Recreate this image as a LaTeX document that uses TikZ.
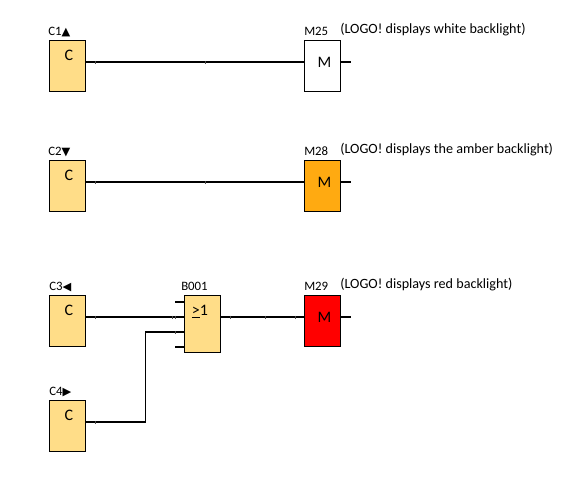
\documentclass[tikz,border=0pt]{standalone}
\usepackage{fontspec}
\setmainfont{Carlito}
\newfontfamily\symfont{DejaVu Sans}
\definecolor{blockfill}{RGB}{255,221,136}
\definecolor{amberfill}{RGB}{255,170,17}
\definecolor{redfill}{RGB}{255,0,0}
\definecolor{shadowgrey}{RGB}{170,170,170}
\tikzset{
  px/.style={x=0.75pt,y=-0.75pt},
  blockbox/.style={draw=black,line width=0.9pt,minimum width=27pt,minimum height=38.25pt,inner sep=0pt,anchor=north west,fill=blockfill,text depth=0pt},
  wire/.style={draw=black,line width=0.9pt},
  blocklabel/.style={anchor=base west,inner sep=0pt,font=\fontsize{9.6pt}{11pt}\selectfont},
  notelabel/.style={anchor=base west,inner sep=0pt,font=\fontsize{10.6pt}{12pt}\selectfont},
  blocktext/.style={anchor=base,inner sep=0pt,font=\fontsize{12pt}{14pt}\selectfont},
  wiretick/.style={draw=black!70,line width=0.4pt}
}
\begin{document}
\begin{tikzpicture}[px]
\useasboundingbox (0,0) rectangle (579,480);
% input blocks
\node[blockbox] (c1) at (49,39.5) {};
\node[blockbox] (c2) at (49,159.5) {};
\node[blockbox] (c3) at (49,294.5) {};
\node[blockbox] (c4) at (49,399.5) {};
\node[blockbox,minimum height=42.75pt] (b1) at (184,294.5) {};
\node[blockbox,fill=white] (m25) at (304,39.5) {};
\node[blockbox,fill=amberfill] (m28) at (304,159.5) {};
\node[blockbox,fill=redfill] (m29) at (304,294.5) {};
% block inscriptions
\node[blocktext] (tc1) at (69,60) {C};
\node[blocktext] (tc2) at (69,180) {C};
\node[blocktext] (tc3) at (69,315) {C};
\node[blocktext] (tc4) at (69,420) {C};
\node[blocktext] (tb1) at (200,315) {\underline{>}1};
\node[blocktext] (tm25) at (324.5,67) {M};
\node[blocktext] (tm28) at (324.5,187) {M};
\node[blocktext] (tm29) at (324.5,322) {M};
% names
\node[blocklabel] (lc1) at (48,35) {C1{\symfont\fontsize{8.5pt}{10pt}\selectfont ▲}};
\node[blocklabel] (lc2) at (48,155) {C2{\symfont\fontsize{8.5pt}{10pt}\selectfont ▼}};
\node[blocklabel] (lc3) at (49,290) {C3{\symfont\fontsize{8.5pt}{10pt}\selectfont ◀}};
\node[blocklabel] (lc4) at (49,395) {C4{\symfont\fontsize{8.5pt}{10pt}\selectfont ▶}};
\node[blocklabel] (lb1) at (181,290) {B001};
\node[blocklabel] (lm25) at (304,35) {M25};
\node[blocklabel] (lm28) at (304,155) {M28};
\node[blocklabel] (lm29) at (304,290) {M29};
\node[notelabel] (n25) at (340,33) {(LOGO! displays white backlight)};
\node[notelabel] (n28) at (340,153) {(LOGO! displays the amber backlight)};
\node[notelabel] (n29) at (340,288) {(LOGO! displays red backlight)};
% free ends and junction points
\coordinate (o25) at (351,62);
\coordinate (o28) at (351,182);
\coordinate (o29) at (351,317);
\coordinate (i1) at (175,302);
\coordinate (i3) at (175,347);
\coordinate (b1a) at (184,302);
\coordinate (b1b) at (184,317);
\coordinate (b1c) at (184,332);
\coordinate (b1d) at (184,347);
\coordinate (bend) at (145.5,332);
% connectors
\draw[wire] (c1.east |- 0,62) -- (m25.west |- 0,62);
\draw[wire] (m25.east |- o25) -- (o25);
\draw[wire] (c2.east |- 0,182) -- (m28.west |- 0,182);
\draw[wire] (m28.east |- o28) -- (o28);
\draw[wire] (c3.east |- b1b) -- (b1b);
\draw[wire] (c4.east |- 0,422) -| (bend) -- (b1c);
\draw[wire] (b1.east |- o29) -- (m29.west |- o29);
\draw[wire] (m29.east |- o29) -- (o29);
\draw[wire] (i1) -- (b1a);
\draw[wire] (i3) -- (b1d);
% small marks on the wires
\foreach \x/\y in {95/62,205/62,205/182,95/182,95/317,172/317,175/317,95/422,175/332,230/317,265/317,295/317}
  \draw[wiretick] (\x,\y-1.5) -- (\x,\y+1.5);
\end{tikzpicture}
\end{document}
